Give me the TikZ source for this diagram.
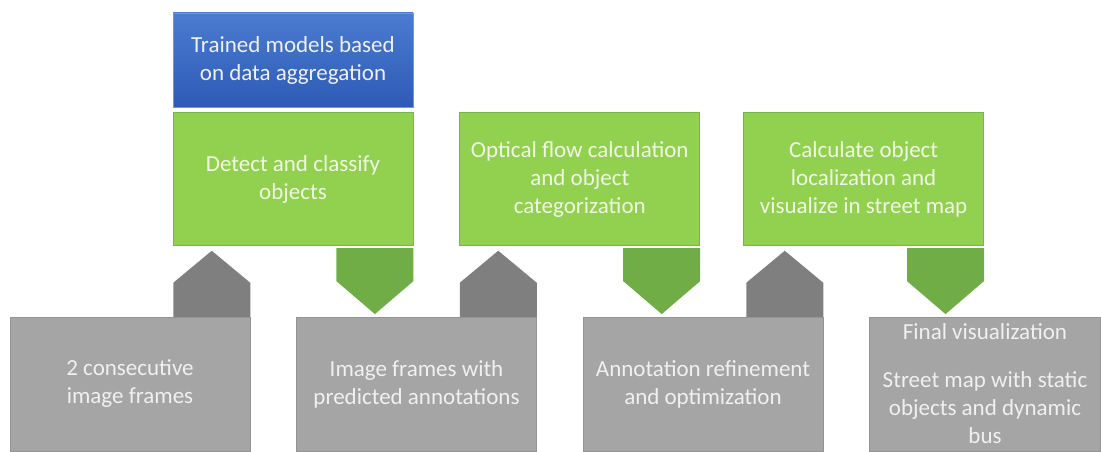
\documentclass[tikz,border=0pt]{standalone}
\usepackage{fontspec}
\setmainfont{Carlito}
\usepackage{tikz}
\usetikzlibrary{positioning, calc}
\definecolor{myblue}{RGB}{74,124,208}
\definecolor{mydeepblue}{RGB}{46,90,182}
\definecolor{mygreen}{RGB}{146,208,80}
\definecolor{mydkgreen}{RGB}{112,173,71}
\definecolor{mygray}{RGB}{165,165,165}
\definecolor{mydkgray}{RGB}{127,127,127}
\definecolor{txtgreen}{RGB}{240,248,228}
\definecolor{txtgray}{RGB}{240,240,240}
\tikzset{
  bluebox/.style={rectangle, top color=myblue, bottom color=mydeepblue,
    draw=myblue!80!white, line width=0.6pt, minimum width=240pt, minimum height=94pt,
    align=center, text=txtgray, inner sep=0pt},
  greenbox/.style={rectangle, fill=mygreen, draw=mydkgreen!80!mygreen,
    line width=0.8pt, minimum width=240pt, minimum height=133pt,
    align=center, text=txtgreen, inner sep=0pt},
  graybox/.style={rectangle, fill=mygray, draw=mygray!90!black, line width=0.5pt,
    minimum width=240pt, minimum height=134pt,
    align=center, text=txtgray, inner sep=0pt},
  uparrow/.style={fill=mydkgray},
  downarrow/.style={fill=mydkgreen}
}

\begin{document}
\begin{tikzpicture}[x=1pt, y=1pt,
  font=\fontsize{23}{28}\selectfont]
  \useasboundingbox (0,0) rectangle (1101,451);

  \node[bluebox] (models) at (293,391) {Trained models based\\on data aggregation};
  \node[greenbox, below=5pt of models] (detect) {Detect and classify\\objects};
  \node[greenbox, right=46pt of detect] (flow) {Optical flow calculation\\and object\\categorization};
  \node[greenbox, right=43pt of flow] (locate) {Calculate object\\localization and\\visualize in street map};

  \node[graybox] (frames) at (130,67) {2 consecutive\\image frames};
  \node[graybox, right=46pt of frames] (annot) {Image frames with\\predicted annotations};
  \node[graybox, right=46pt of annot] (refine) {Annotation refinement\\and optimization};
  \node[graybox, right=46pt of refine, minimum width=231pt] (final)
    {Final visualization\\[20pt]Street map with static\\objects and dynamic\\bus};

  % block arrows up
  \fill[uparrow] ($(frames.north east)+(-77,0)$) -- ++(0,34) -- ++(38.5,32) -- ++(38.5,-32) -- ++(0,-34) -- cycle;
  \fill[uparrow] ($(annot.north east)+(-77,0)$) -- ++(0,34) -- ++(38.5,32) -- ++(38.5,-32) -- ++(0,-34) -- cycle;
  \fill[uparrow] ($(refine.north east)+(-77,0)$) -- ++(0,34) -- ++(38.5,32) -- ++(38.5,-32) -- ++(0,-34) -- cycle;
  % block arrows down
  \fill[downarrow] ($(detect.south east)+(-77,-2)$) -- ++(0,-33) -- ++(38.5,-33) -- ++(38.5,33) -- ++(0,33) -- cycle;
  \fill[downarrow] ($(flow.south east)+(-77,-2)$) -- ++(0,-33) -- ++(38.5,-33) -- ++(38.5,33) -- ++(0,33) -- cycle;
  \fill[downarrow] ($(locate.south east)+(-77,-2)$) -- ++(0,-33) -- ++(38.5,-33) -- ++(38.5,33) -- ++(0,33) -- cycle;
\end{tikzpicture}
\end{document}
